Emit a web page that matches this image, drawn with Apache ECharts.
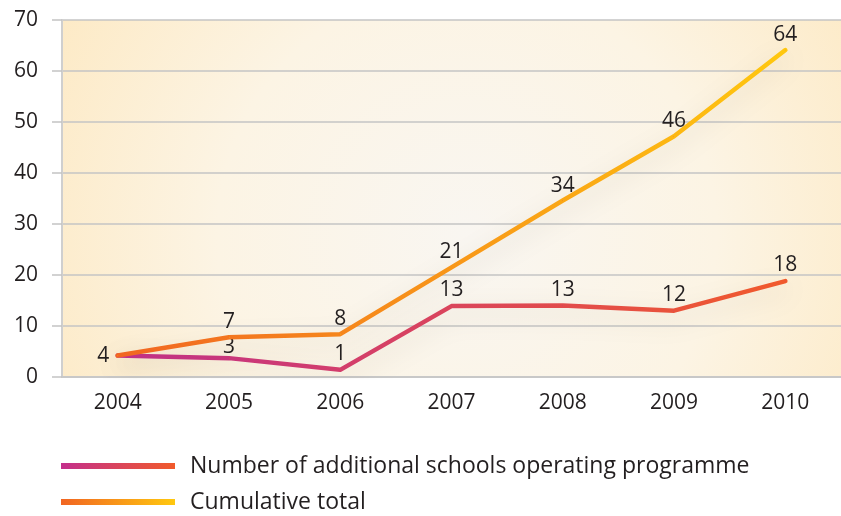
<!DOCTYPE html>
<html>
<head>
<meta charset="utf-8">
<script src="https://cdn.jsdelivr.net/npm/echarts@6/dist/echarts.min.js"></script>
<style>
  html, body { margin: 0; padding: 0; background: #fff; }
  #chart { width: 841px; height: 516px; }
</style>
</head>
<body>
<div id="chart"></div>
<script>
// years on the x axis
const years = ['2004', '2005', '2006', '2007', '2008', '2009', '2010'];
// plotted positions
const additionalSchools = [4.2, 3.7, 1.4, 13.9, 14.0, 13.0, 18.8];
const cumulativeTotal = [4.2, 7.8, 8.4, 21.5, 34.6, 47.2, 64.1];
// numbers printed next to the points
const additionalLabels = ['', '3', '1', '13', '13', '12', '18'];
const cumulativeLabels = ['4', '7', '8', '21', '34', '46', '64'];
const seriesNames = ['Number of additional schools operating programme', 'Cumulative total'];

const FONT = '"Open Sans", "Noto Sans", sans-serif';

const chart = echarts.init(document.getElementById('chart'));

const pinkGrad = new echarts.graphic.LinearGradient(0, 0, 1, 0, [
  { offset: 0, color: '#c32f8c' },
  { offset: 1, color: '#f15a2b' }
]);
const orangeGrad = new echarts.graphic.LinearGradient(0, 0, 1, 0, [
  { offset: 0, color: '#f16522' },
  { offset: 1, color: '#ffc80f' }
]);

const option = {
  animation: false,
  textStyle: { fontFamily: FONT },
  grid: {
    left: 62,
    right: -9,
    top: 20,
    bottom: 139,
    show: true,
    borderWidth: 0,
    backgroundColor: new echarts.graphic.RadialGradient(0.52, 0.6, 1.4, [
      { offset: 0, color: '#f9f6f1' },
      { offset: 0.5, color: '#fcf4e4' },
      { offset: 1, color: '#fde8c0' }
    ])
  },
  legend: {
    orient: 'vertical',
    left: 61,
    top: 453,
    padding: 0,
    icon: 'rect',
    itemWidth: 114,
    itemHeight: 6,
    itemGap: 10,
    data: seriesNames,
    textStyle: {
      fontFamily: FONT,
      fontSize: 23,
      lineHeight: 26,
      color: '#231f20',
      padding: [0, 0, 0, 10]
    }
  },
  xAxis: {
    type: 'category',
    data: years,
    boundaryGap: true,
    axisLine: { lineStyle: { color: '#c8c8c8', width: 2 } },
    axisTick: { length: 6, lineStyle: { color: '#c8c8c8', width: 2 } },
    axisLabel: { fontSize: 21, color: '#231f20', margin: 16, fontFamily: FONT }
  },
  yAxis: {
    type: 'value',
    min: 0,
    max: 70,
    interval: 10,
    axisLine: { show: true, lineStyle: { color: '#cfcfcf', width: 2 } },
    axisTick: { show: true, length: 10, lineStyle: { color: '#c4c4c4', width: 1.5 } },
    splitLine: { lineStyle: { color: '#c4c4c4', width: 1.5 } },
    axisLabel: { fontSize: 21, color: '#231f20', margin: 24, fontFamily: FONT }
  },
  series: [
    {
      name: seriesNames[0],
      type: 'line',
      // the "3" sits tight between the two lines
      data: additionalSchools.map((v, i) => i === 1
        ? { value: v, label: { distance: 0 } }
        : v),
      symbol: 'circle',
      symbolSize: 1,
      z: 3,
      lineStyle: {
        width: 4.5,
        color: pinkGrad,
        cap: 'round',
        join: 'round',
        shadowColor: 'rgba(90,70,40,0.2)',
        shadowBlur: 24,
        shadowOffsetY: 8
      },
      itemStyle: { color: pinkGrad },
      label: {
        show: true,
        position: 'top',
        distance: 5,
        fontSize: 21,
        color: '#231f20',
        fontFamily: FONT,
        formatter: p => additionalLabels[p.dataIndex]
      }
    },
    {
      name: seriesNames[1],
      type: 'line',
      data: cumulativeTotal.map((v, i) => i === 0
        ? { value: v, label: { position: 'left', distance: 8 } }
        : v),
      symbol: 'circle',
      symbolSize: 1,
      z: 4,
      lineStyle: {
        width: 4.5,
        color: orangeGrad,
        cap: 'round',
        join: 'round',
        shadowColor: 'rgba(90,70,40,0.2)',
        shadowBlur: 24,
        shadowOffsetY: 8
      },
      itemStyle: { color: orangeGrad },
      label: {
        show: true,
        position: 'top',
        distance: 4,
        fontSize: 21,
        color: '#231f20',
        fontFamily: FONT,
        formatter: p => cumulativeLabels[p.dataIndex]
      }
    }
  ]
};

chart.setOption(option);
</script>
</body>
</html>
